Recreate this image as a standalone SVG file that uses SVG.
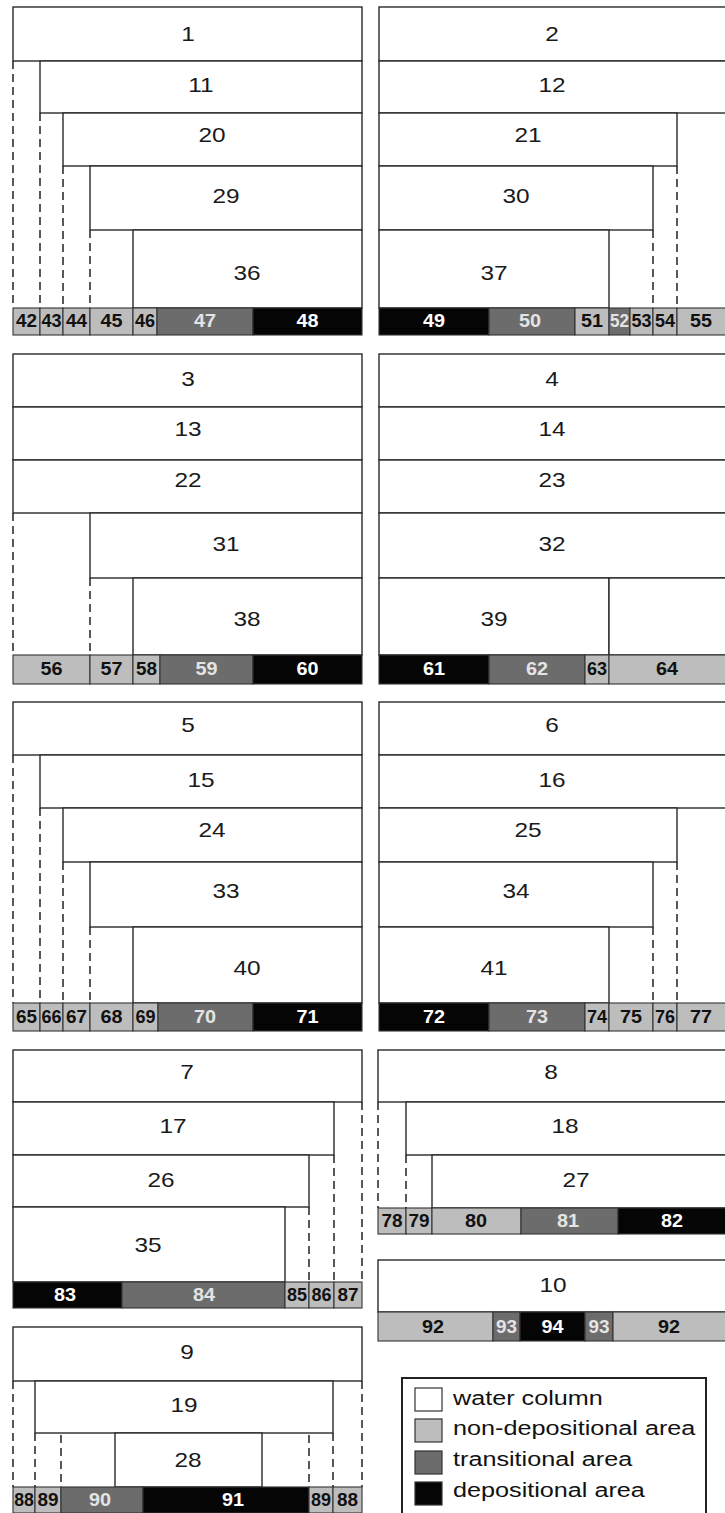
<svg xmlns="http://www.w3.org/2000/svg" width="725" height="1513" viewBox="0 0 725 1513">
<style>
.w{fill:#fff;stroke:#2a2a2a;stroke-width:1.4}
.n{fill:#bdbdbd;stroke:#333;stroke-width:1.1}
.t{fill:#6c6c6c;stroke:#333;stroke-width:1.1}
.d{fill:#050505;stroke:#333;stroke-width:1.1}
.lb{font-family:"Liberation Sans",Arial,sans-serif;font-size:20px;fill:#1a1a1a;text-anchor:middle}
.bl,.bw,.bt{font-family:"Liberation Sans",Arial,sans-serif;font-size:18px;font-weight:bold;text-anchor:middle}
.bl{fill:#111}
.bw{fill:#fff}
.bt{fill:#e4e4e4}
.dash{stroke:#222;stroke-width:1.5;stroke-dasharray:8 5;fill:none}
.lg{font-family:"Liberation Sans",Arial,sans-serif;font-size:21px;fill:#111}
.lgbox{fill:#fff;stroke:#222;stroke-width:2}
.sw{stroke:#333;stroke-width:1.2}
</style>
<rect x="0" y="0" width="725" height="1513" fill="#fff"/>

<!-- Panel 1 -->
<g id="n1"><rect class="w" x="13" y="7" width="349" height="54"/><text class="lb" transform="translate(188 41) scale(1.22 1)">1</text></g>
<g id="n11"><rect class="w" x="40" y="61" width="322" height="52"/><text class="lb" transform="translate(201 92) scale(1.22 1)">11</text></g>
<g id="n20"><rect class="w" x="63" y="113" width="299" height="53"/><text class="lb" transform="translate(212 142) scale(1.22 1)">20</text></g>
<g id="n29"><rect class="w" x="90" y="166" width="272" height="64"/><text class="lb" transform="translate(226 203) scale(1.22 1)">29</text></g>
<g id="n36"><rect class="w" x="133" y="230" width="229" height="78"/><text class="lb" transform="translate(247 280) scale(1.22 1)">36</text></g>
<g id="n42"><rect class="n" x="13" y="308" width="27" height="27"/><text class="bl" transform="translate(26.5 327) scale(1.05 1)">42</text></g>
<g id="n43"><rect class="n" x="40" y="308" width="23" height="27"/><text class="bl" transform="translate(51.5 327) scale(1 1)">43</text></g>
<g id="n44"><rect class="n" x="63" y="308" width="27" height="27"/><text class="bl" transform="translate(76.5 327) scale(1.05 1)">44</text></g>
<g id="n45"><rect class="n" x="90" y="308" width="43" height="27"/><text class="bl" transform="translate(111.5 327) scale(1.1 1)">45</text></g>
<g id="n46"><rect class="n" x="133" y="308" width="24" height="27"/><text class="bl" transform="translate(145 327) scale(1 1)">46</text></g>
<g id="n47"><rect class="t" x="157" y="308" width="96" height="27"/><text class="bt" transform="translate(205 327) scale(1.1 1)">47</text></g>
<g id="n48"><rect class="d" x="253" y="308" width="109" height="27"/><text class="bw" transform="translate(307.5 327) scale(1.1 1)">48</text></g>

<!-- Panel 2 -->
<g id="n2"><rect class="w" x="379" y="7" width="347" height="54"/><text class="lb" transform="translate(552 41) scale(1.22 1)">2</text></g>
<g id="n12"><rect class="w" x="379" y="61" width="347" height="52"/><text class="lb" transform="translate(552 92) scale(1.22 1)">12</text></g>
<g id="n21"><rect class="w" x="379" y="113" width="298" height="53"/><text class="lb" transform="translate(528 142) scale(1.22 1)">21</text></g>
<g id="n30"><rect class="w" x="379" y="166" width="274" height="64"/><text class="lb" transform="translate(516 203) scale(1.22 1)">30</text></g>
<g id="n37"><rect class="w" x="379" y="230" width="230" height="78"/><text class="lb" transform="translate(494 280) scale(1.22 1)">37</text></g>
<g id="n49"><rect class="d" x="379" y="308" width="110" height="27"/><text class="bw" transform="translate(434 327) scale(1.1 1)">49</text></g>
<g id="n50"><rect class="t" x="489" y="308" width="86" height="27"/><text class="bt" transform="translate(530 327) scale(1.1 1)">50</text></g>
<g id="n51"><rect class="n" x="575" y="308" width="34" height="27"/><text class="bl" transform="translate(592 327) scale(1.1 1)">51</text></g>
<g id="n52"><rect class="t" x="609" y="308" width="21" height="27"/><text class="bt" transform="translate(619.5 327) scale(0.95 1)">52</text></g>
<g id="n53"><rect class="n" x="630" y="308" width="23" height="27"/><text class="bl" transform="translate(641.5 327) scale(1 1)">53</text></g>
<g id="n54"><rect class="n" x="653" y="308" width="24" height="27"/><text class="bl" transform="translate(665 327) scale(1 1)">54</text></g>
<g id="n55"><rect class="n" x="677" y="308" width="49" height="27"/><text class="bl" transform="translate(701 327) scale(1.1 1)">55</text></g>

<!-- Panel 3 -->
<g id="n3"><rect class="w" x="13" y="354" width="349" height="53"/><text class="lb" transform="translate(188 386) scale(1.22 1)">3</text></g>
<g id="n13"><rect class="w" x="13" y="407" width="349" height="53"/><text class="lb" transform="translate(188 436) scale(1.22 1)">13</text></g>
<g id="n22"><rect class="w" x="13" y="460" width="349" height="53"/><text class="lb" transform="translate(188 487) scale(1.22 1)">22</text></g>
<g id="n31"><rect class="w" x="90" y="513" width="272" height="65"/><text class="lb" transform="translate(226 551) scale(1.22 1)">31</text></g>
<g id="n38"><rect class="w" x="133" y="578" width="229" height="77"/><text class="lb" transform="translate(247 626) scale(1.22 1)">38</text></g>
<g id="n56"><rect class="n" x="13" y="655" width="77" height="29"/><text class="bl" transform="translate(51.5 675) scale(1.1 1)">56</text></g>
<g id="n57"><rect class="n" x="90" y="655" width="43" height="29"/><text class="bl" transform="translate(111.5 675) scale(1.1 1)">57</text></g>
<g id="n58"><rect class="n" x="133" y="655" width="27" height="29"/><text class="bl" transform="translate(146.5 675) scale(1.05 1)">58</text></g>
<g id="n59"><rect class="t" x="160" y="655" width="93" height="29"/><text class="bt" transform="translate(206.5 675) scale(1.1 1)">59</text></g>
<g id="n60"><rect class="d" x="253" y="655" width="109" height="29"/><text class="bw" transform="translate(307.5 675) scale(1.1 1)">60</text></g>

<!-- Panel 4 -->
<g id="n4"><rect class="w" x="379" y="354" width="347" height="53"/><text class="lb" transform="translate(552 386) scale(1.22 1)">4</text></g>
<g id="n14"><rect class="w" x="379" y="407" width="347" height="53"/><text class="lb" transform="translate(552 436) scale(1.22 1)">14</text></g>
<g id="n23"><rect class="w" x="379" y="460" width="347" height="53"/><text class="lb" transform="translate(552 487) scale(1.22 1)">23</text></g>
<g id="n32"><rect class="w" x="379" y="513" width="347" height="65"/><text class="lb" transform="translate(552 551) scale(1.22 1)">32</text></g>
<g id="n39"><rect class="w" x="379" y="578" width="230" height="77"/><text class="lb" transform="translate(494 626) scale(1.22 1)">39</text></g>
<g id="p4-right"><rect class="w" x="609" y="578" width="117" height="77"/></g>
<g id="n61"><rect class="d" x="379" y="655" width="110" height="29"/><text class="bw" transform="translate(434 675) scale(1.1 1)">61</text></g>
<g id="n62"><rect class="t" x="489" y="655" width="96" height="29"/><text class="bt" transform="translate(537 675) scale(1.1 1)">62</text></g>
<g id="n63"><rect class="n" x="585" y="655" width="24" height="29"/><text class="bl" transform="translate(597 675) scale(1 1)">63</text></g>
<g id="n64"><rect class="n" x="609" y="655" width="117" height="29"/><text class="bl" transform="translate(667 675) scale(1.1 1)">64</text></g>

<!-- Panel 5 -->
<g id="n5"><rect class="w" x="13" y="702" width="349" height="53"/><text class="lb" transform="translate(188 732) scale(1.22 1)">5</text></g>
<g id="n15"><rect class="w" x="40" y="755" width="322" height="53"/><text class="lb" transform="translate(201 787) scale(1.22 1)">15</text></g>
<g id="n24"><rect class="w" x="63" y="808" width="299" height="54"/><text class="lb" transform="translate(212 837) scale(1.22 1)">24</text></g>
<g id="n33"><rect class="w" x="90" y="862" width="272" height="65"/><text class="lb" transform="translate(226 898) scale(1.22 1)">33</text></g>
<g id="n40"><rect class="w" x="133" y="927" width="229" height="76"/><text class="lb" transform="translate(247 975) scale(1.22 1)">40</text></g>
<g id="n65"><rect class="n" x="13" y="1003" width="27" height="28"/><text class="bl" transform="translate(26.5 1023) scale(1.05 1)">65</text></g>
<g id="n66"><rect class="n" x="40" y="1003" width="23" height="28"/><text class="bl" transform="translate(51.5 1023) scale(1 1)">66</text></g>
<g id="n67"><rect class="n" x="63" y="1003" width="27" height="28"/><text class="bl" transform="translate(76.5 1023) scale(1.05 1)">67</text></g>
<g id="n68"><rect class="n" x="90" y="1003" width="43" height="28"/><text class="bl" transform="translate(111.5 1023) scale(1.1 1)">68</text></g>
<g id="n69"><rect class="n" x="133" y="1003" width="25" height="28"/><text class="bl" transform="translate(145.5 1023) scale(1 1)">69</text></g>
<g id="n70"><rect class="t" x="158" y="1003" width="95" height="28"/><text class="bt" transform="translate(205 1023) scale(1.1 1)">70</text></g>
<g id="n71"><rect class="d" x="253" y="1003" width="109" height="28"/><text class="bw" transform="translate(307.5 1023) scale(1.1 1)">71</text></g>

<!-- Panel 6 -->
<g id="n6"><rect class="w" x="379" y="702" width="347" height="53"/><text class="lb" transform="translate(552 732) scale(1.22 1)">6</text></g>
<g id="n16"><rect class="w" x="379" y="755" width="347" height="53"/><text class="lb" transform="translate(552 787) scale(1.22 1)">16</text></g>
<g id="n25"><rect class="w" x="379" y="808" width="298" height="54"/><text class="lb" transform="translate(528 837) scale(1.22 1)">25</text></g>
<g id="n34"><rect class="w" x="379" y="862" width="274" height="65"/><text class="lb" transform="translate(516 898) scale(1.22 1)">34</text></g>
<g id="n41"><rect class="w" x="379" y="927" width="230" height="76"/><text class="lb" transform="translate(494 975) scale(1.22 1)">41</text></g>
<g id="n72"><rect class="d" x="379" y="1003" width="110" height="28"/><text class="bw" transform="translate(434 1023) scale(1.1 1)">72</text></g>
<g id="n73"><rect class="t" x="489" y="1003" width="96" height="28"/><text class="bt" transform="translate(537 1023) scale(1.1 1)">73</text></g>
<g id="n74"><rect class="n" x="585" y="1003" width="24" height="28"/><text class="bl" transform="translate(597 1023) scale(1 1)">74</text></g>
<g id="n75"><rect class="n" x="609" y="1003" width="44" height="28"/><text class="bl" transform="translate(631 1023) scale(1.1 1)">75</text></g>
<g id="n76"><rect class="n" x="653" y="1003" width="24" height="28"/><text class="bl" transform="translate(665 1023) scale(1 1)">76</text></g>
<g id="n77"><rect class="n" x="677" y="1003" width="49" height="28"/><text class="bl" transform="translate(701 1023) scale(1.1 1)">77</text></g>

<!-- Panel 7 -->
<g id="n7"><rect class="w" x="13" y="1050" width="349" height="52"/><text class="lb" transform="translate(187 1079) scale(1.22 1)">7</text></g>
<g id="n17"><rect class="w" x="13" y="1102" width="321" height="53"/><text class="lb" transform="translate(173 1133) scale(1.22 1)">17</text></g>
<g id="n26"><rect class="w" x="13" y="1155" width="296" height="52"/><text class="lb" transform="translate(161 1187) scale(1.22 1)">26</text></g>
<g id="n35"><rect class="w" x="13" y="1207" width="272" height="75"/><text class="lb" transform="translate(148 1252) scale(1.22 1)">35</text></g>
<g id="n83"><rect class="d" x="13" y="1282" width="109" height="26"/><text class="bw" transform="translate(65 1301) scale(1.1 1)">83</text></g>
<g id="n84"><rect class="t" x="122" y="1282" width="163" height="26"/><text class="bt" transform="translate(204 1301) scale(1.1 1)">84</text></g>
<g id="n85"><rect class="n" x="285" y="1282" width="24" height="26"/><text class="bl" transform="translate(297 1301) scale(1 1)">85</text></g>
<g id="n86"><rect class="n" x="309" y="1282" width="25" height="26"/><text class="bl" transform="translate(321.5 1301) scale(1 1)">86</text></g>
<g id="n87"><rect class="n" x="334" y="1282" width="28" height="26"/><text class="bl" transform="translate(348 1301) scale(1.05 1)">87</text></g>

<!-- Panel 8 -->
<g id="n8"><rect class="w" x="378" y="1050" width="348" height="52"/><text class="lb" transform="translate(551 1079) scale(1.22 1)">8</text></g>
<g id="n18"><rect class="w" x="406" y="1102" width="320" height="53"/><text class="lb" transform="translate(565 1133) scale(1.22 1)">18</text></g>
<g id="n27"><rect class="w" x="432" y="1155" width="294" height="53"/><text class="lb" transform="translate(576 1187) scale(1.22 1)">27</text></g>
<g id="n78"><rect class="n" x="378" y="1208" width="28" height="26"/><text class="bl" transform="translate(392 1227) scale(1.05 1)">78</text></g>
<g id="n79"><rect class="n" x="406" y="1208" width="26" height="26"/><text class="bl" transform="translate(419 1227) scale(1.05 1)">79</text></g>
<g id="n80"><rect class="n" x="432" y="1208" width="89" height="26"/><text class="bl" transform="translate(476 1227) scale(1.1 1)">80</text></g>
<g id="n81"><rect class="t" x="521" y="1208" width="97" height="26"/><text class="bt" transform="translate(568 1227) scale(1.1 1)">81</text></g>
<g id="n82"><rect class="d" x="618" y="1208" width="108" height="26"/><text class="bw" transform="translate(672 1227) scale(1.1 1)">82</text></g>

<!-- Panel 10 -->
<g id="n10"><rect class="w" x="378" y="1260" width="348" height="52"/><text class="lb" transform="translate(553 1292) scale(1.22 1)">10</text></g>
<g id="n92a"><rect class="n" x="378" y="1312" width="115" height="29"/><text class="bl" transform="translate(433 1333) scale(1.1 1)">92</text></g>
<g id="n93a"><rect class="t" x="493" y="1312" width="27" height="29"/><text class="bt" transform="translate(506.5 1333) scale(1.05 1)">93</text></g>
<g id="n94"><rect class="d" x="520" y="1312" width="65" height="29"/><text class="bw" transform="translate(552.5 1333) scale(1.1 1)">94</text></g>
<g id="n93b"><rect class="t" x="585" y="1312" width="28" height="29"/><text class="bt" transform="translate(599 1333) scale(1.05 1)">93</text></g>
<g id="n92b"><rect class="n" x="613" y="1312" width="113" height="29"/><text class="bl" transform="translate(669 1333) scale(1.1 1)">92</text></g>

<!-- Panel 9 -->
<g id="n9"><rect class="w" x="13" y="1327" width="349" height="54"/><text class="lb" transform="translate(187 1359) scale(1.22 1)">9</text></g>
<g id="n19"><rect class="w" x="35" y="1381" width="298" height="52"/><text class="lb" transform="translate(184 1412) scale(1.22 1)">19</text></g>
<g id="n28"><rect class="w" x="115" y="1433" width="147" height="54"/><text class="lb" transform="translate(188 1467) scale(1.22 1)">28</text></g>
<g id="n88a"><rect class="n" x="13" y="1487" width="22" height="26"/><text class="bl" transform="translate(24 1506) scale(0.98 1)">88</text></g>
<g id="n89a"><rect class="n" x="35" y="1487" width="26" height="26"/><text class="bl" transform="translate(48 1506) scale(1.05 1)">89</text></g>
<g id="n90"><rect class="t" x="61" y="1487" width="82" height="26"/><text class="bt" transform="translate(100 1506) scale(1.1 1)">90</text></g>
<g id="n91"><rect class="d" x="143" y="1487" width="166" height="26"/><text class="bw" transform="translate(233 1506) scale(1.1 1)">91</text></g>
<g id="n89b"><rect class="n" x="309" y="1487" width="24" height="26"/><text class="bl" transform="translate(321 1506) scale(1 1)">89</text></g>
<g id="n88b"><rect class="n" x="333" y="1487" width="29" height="26"/><text class="bl" transform="translate(347.5 1506) scale(1.05 1)">88</text></g>

<!-- Legend -->
<g id="legend">
<rect class="lgbox" x="402" y="1378" width="304" height="145"/>
<rect class="sw" x="415" y="1388" width="27" height="23" fill="#fff"/>
<rect class="sw" x="415" y="1419" width="27" height="23" fill="#bdbdbd"/>
<rect class="sw" x="415" y="1451" width="27" height="23" fill="#6c6c6c"/>
<rect class="sw" x="415" y="1482" width="27" height="23" fill="#050505"/>
<text class="lg" transform="translate(453 1405) scale(1.2 1)">water column</text>
<text class="lg" transform="translate(453 1435) scale(1.2 1)">non-depositional area</text>
<text class="lg" transform="translate(453 1466) scale(1.2 1)">transitional area</text>
<text class="lg" transform="translate(453 1497) scale(1.2 1)">depositional area</text>
</g>

<!-- Connectors: dashed boundary lines -->
<g id="connectors">
<line class="dash" x1="13" y1="61" x2="13" y2="308"/>
<line class="dash" x1="40" y1="113" x2="40" y2="308"/>
<line class="dash" x1="63" y1="166" x2="63" y2="308"/>
<line class="dash" x1="90" y1="230" x2="90" y2="308"/>
<line class="dash" x1="677" y1="166" x2="677" y2="308"/>
<line class="dash" x1="653" y1="230" x2="653" y2="308"/>
<line class="dash" x1="13" y1="513" x2="13" y2="655"/>
<line class="dash" x1="90" y1="578" x2="90" y2="655"/>
<line class="dash" x1="13" y1="755" x2="13" y2="1003"/>
<line class="dash" x1="40" y1="808" x2="40" y2="1003"/>
<line class="dash" x1="63" y1="862" x2="63" y2="1003"/>
<line class="dash" x1="90" y1="927" x2="90" y2="1003"/>
<line class="dash" x1="677" y1="862" x2="677" y2="1003"/>
<line class="dash" x1="653" y1="927" x2="653" y2="1003"/>
<line class="dash" x1="362" y1="1102" x2="362" y2="1282"/>
<line class="dash" x1="334" y1="1155" x2="334" y2="1282"/>
<line class="dash" x1="309" y1="1207" x2="309" y2="1282"/>
<line class="dash" x1="378" y1="1102" x2="378" y2="1208"/>
<line class="dash" x1="406" y1="1155" x2="406" y2="1208"/>
<line class="dash" x1="13" y1="1381" x2="13" y2="1487"/>
<line class="dash" x1="362" y1="1381" x2="362" y2="1487"/>
<line class="dash" x1="35" y1="1433" x2="35" y2="1487"/>
<line class="dash" x1="333" y1="1433" x2="333" y2="1487"/>
<line class="dash" x1="61" y1="1435" x2="61" y2="1487"/>
<line class="dash" x1="309" y1="1435" x2="309" y2="1487"/>
</g>
</svg>
